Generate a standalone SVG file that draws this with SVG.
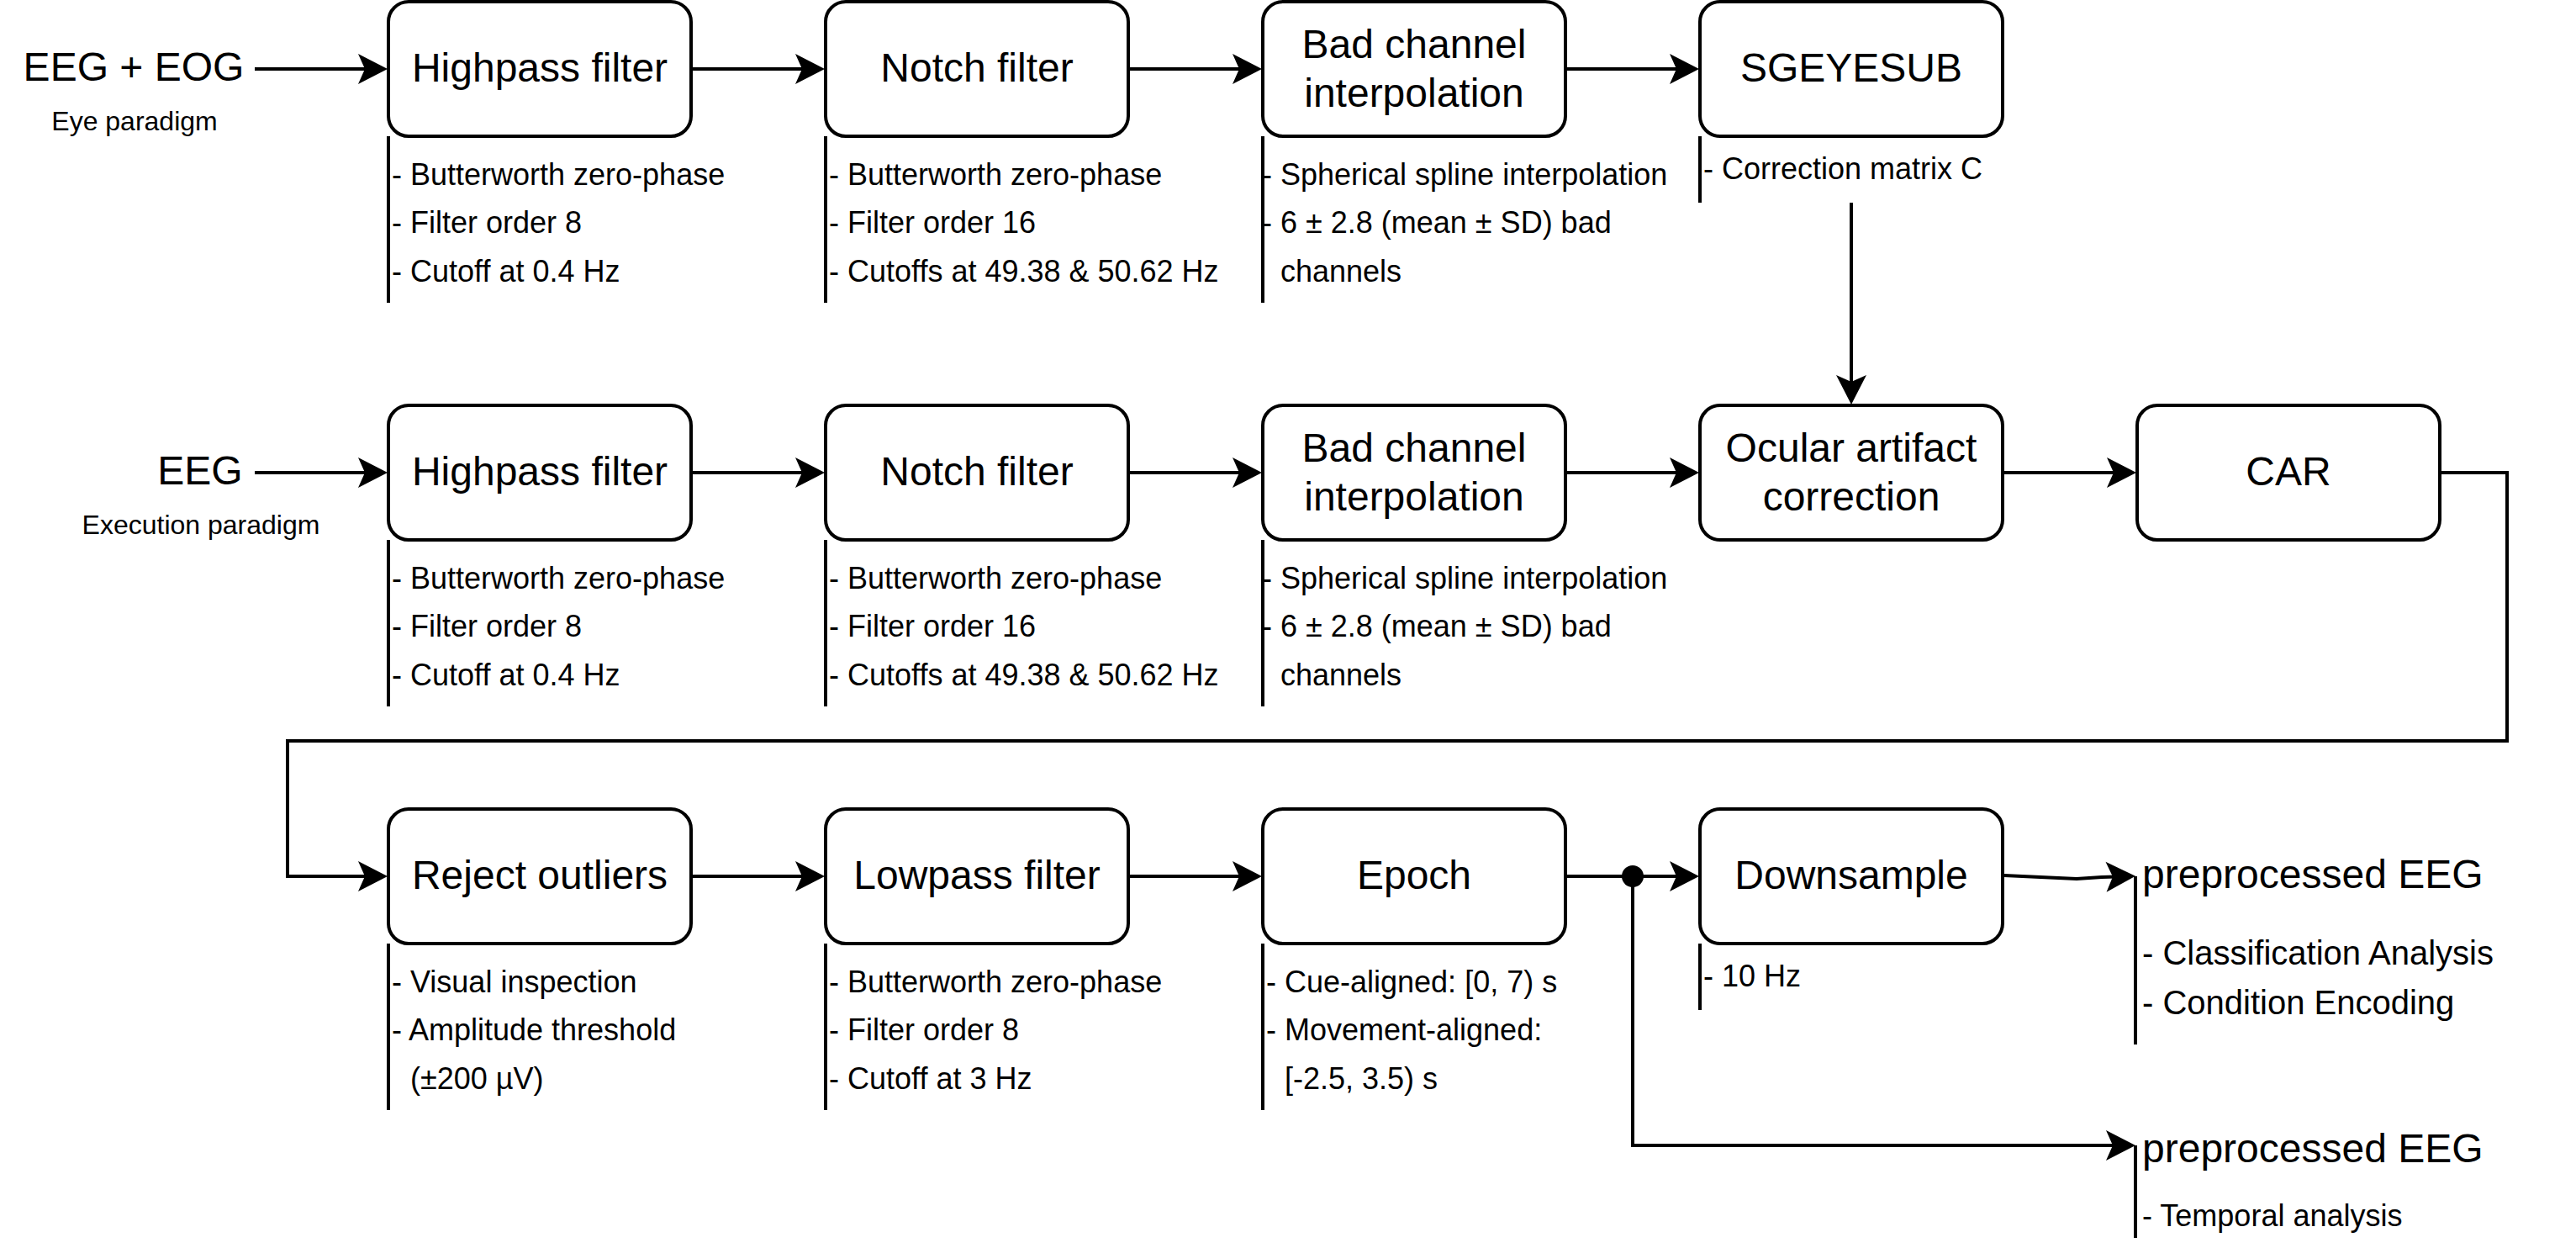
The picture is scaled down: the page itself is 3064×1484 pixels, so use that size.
<svg xmlns="http://www.w3.org/2000/svg" width="3064" height="1484" viewBox="0 0 3064 1484">
<defs>
<marker id="arr" markerUnits="userSpaceOnUse" markerWidth="40" markerHeight="40" viewBox="0 0 40 40" refX="30" refY="20" orient="auto">
<polygon points="36,20 1,2 9,20 1,38" fill="#000"/>
</marker>
</defs>
<style>
text{font-family:"Liberation Sans",Arial,Helvetica,sans-serif;fill:#000}
.box{fill:#fff;stroke:#000;stroke-width:4}
.lbl{font-size:48px;text-anchor:middle}
.sub{font-size:32px;text-anchor:middle}
.ann{font-size:36px}
.ann40{font-size:40px}
.head{font-size:48px}
.aline{stroke:#000;stroke-width:4;fill:none}
.edge{stroke:#000;stroke-width:4;fill:none;marker-end:url(#arr)}
</style>
<rect x="0" y="0" width="3064" height="1484" fill="#fff"/>

<g id="connectors">
<path class="edge" d="M303,82 H455"/>
<path class="edge" d="M824,82 H975"/>
<path class="edge" d="M1344,82 H1495"/>
<path class="edge" d="M1864,82 H2015"/>
<path class="edge" d="M2202,241 V475"/>
<path class="edge" d="M303,562 H455"/>
<path class="edge" d="M824,562 H975"/>
<path class="edge" d="M1344,562 H1495"/>
<path class="edge" d="M1864,562 H2015"/>
<path class="edge" d="M2384,562 H2535"/>
<path class="edge" d="M2904,562 H2982 V881 H342 V1042 H455"/>
<path class="edge" d="M824,1042 H975"/>
<path class="edge" d="M1344,1042 H1495"/>
<path class="edge" d="M1864,1042 H2015"/>
<path class="edge" d="M1942,1042 V1362 H2534"/>
<path class="edge" d="M2384,1041 L2470,1045 L2500,1043 L2534,1042"/>
<circle cx="1942" cy="1042" r="13" fill="#000"/>
</g>

<g id="in-eye">
<text class="lbl" x="159" y="96">EEG + EOG</text>
<text class="sub" x="160" y="155">Eye paradigm</text>
</g>
<g id="in-exec">
<text class="lbl" x="238" y="576">EEG</text>
<text class="sub" x="239" y="635">Execution paradigm</text>
</g>

<g id="hp1">
<rect class="box" x="462" y="2" width="360" height="160" rx="24"/>
<text class="lbl" x="642" y="97">Highpass filter</text>
<path class="aline" d="M462,162 V360"/>
<text class="ann" x="466" y="220">- Butterworth zero-phase</text>
<text class="ann" x="466" y="277">- Filter order 8</text>
<text class="ann" x="466" y="335">- Cutoff at 0.4 Hz</text>
</g>
<g id="notch1">
<rect class="box" x="982" y="2" width="360" height="160" rx="24"/>
<text class="lbl" x="1162" y="97">Notch filter</text>
<path class="aline" d="M982,162 V360"/>
<text class="ann" x="986" y="220">- Butterworth zero-phase</text>
<text class="ann" x="986" y="277">- Filter order 16</text>
<text class="ann" x="986" y="335">- Cutoffs at 49.38 &amp; 50.62 Hz</text>
</g>
<g id="bad1">
<rect class="box" x="1502" y="2" width="360" height="160" rx="24"/>
<text class="lbl" x="1682" y="69">Bad channel</text>
<text class="lbl" x="1682" y="127">interpolation</text>
<path class="aline" d="M1502,162 V360"/>
<text class="ann" x="1501" y="220">- Spherical spline interpolation</text>
<text class="ann" x="1501" y="277">- 6 ± 2.8 (mean ± SD) bad</text>
<text class="ann" x="1523" y="335">channels</text>
</g>
<g id="sgeyesub">
<rect class="box" x="2022" y="2" width="360" height="160" rx="24"/>
<text class="lbl" x="2202" y="97">SGEYESUB</text>
<path class="aline" d="M2022,162 V241"/>
<text class="ann" x="2026" y="213">- Correction matrix C</text>
</g>

<g id="hp2">
<rect class="box" x="462" y="482" width="360" height="160" rx="24"/>
<text class="lbl" x="642" y="577">Highpass filter</text>
<path class="aline" d="M462,642 V840"/>
<text class="ann" x="466" y="700">- Butterworth zero-phase</text>
<text class="ann" x="466" y="757">- Filter order 8</text>
<text class="ann" x="466" y="815">- Cutoff at 0.4 Hz</text>
</g>
<g id="notch2">
<rect class="box" x="982" y="482" width="360" height="160" rx="24"/>
<text class="lbl" x="1162" y="577">Notch filter</text>
<path class="aline" d="M982,642 V840"/>
<text class="ann" x="986" y="700">- Butterworth zero-phase</text>
<text class="ann" x="986" y="757">- Filter order 16</text>
<text class="ann" x="986" y="815">- Cutoffs at 49.38 &amp; 50.62 Hz</text>
</g>
<g id="bad2">
<rect class="box" x="1502" y="482" width="360" height="160" rx="24"/>
<text class="lbl" x="1682" y="549">Bad channel</text>
<text class="lbl" x="1682" y="607">interpolation</text>
<path class="aline" d="M1502,642 V840"/>
<text class="ann" x="1501" y="700">- Spherical spline interpolation</text>
<text class="ann" x="1501" y="757">- 6 ± 2.8 (mean ± SD) bad</text>
<text class="ann" x="1523" y="815">channels</text>
</g>
<g id="ocular">
<rect class="box" x="2022" y="482" width="360" height="160" rx="24"/>
<text class="lbl" x="2202" y="549">Ocular artifact</text>
<text class="lbl" x="2202" y="607">correction</text>
</g>
<g id="car">
<rect class="box" x="2542" y="482" width="360" height="160" rx="24"/>
<text class="lbl" x="2722" y="577">CAR</text>
</g>

<g id="reject">
<rect class="box" x="462" y="962" width="360" height="160" rx="24"/>
<text class="lbl" x="642" y="1057">Reject outliers</text>
<path class="aline" d="M462,1122 V1320"/>
<text class="ann" x="466" y="1180">- Visual inspection</text>
<text class="ann" x="466" y="1237">- Amplitude threshold</text>
<text class="ann" x="488" y="1295">(±200 µV)</text>
</g>
<g id="lowpass">
<rect class="box" x="982" y="962" width="360" height="160" rx="24"/>
<text class="lbl" x="1162" y="1057">Lowpass filter</text>
<path class="aline" d="M982,1122 V1320"/>
<text class="ann" x="986" y="1180">- Butterworth zero-phase</text>
<text class="ann" x="986" y="1237">- Filter order 8</text>
<text class="ann" x="986" y="1295">- Cutoff at 3 Hz</text>
</g>
<g id="epoch">
<rect class="box" x="1502" y="962" width="360" height="160" rx="24"/>
<text class="lbl" x="1682" y="1057">Epoch</text>
<path class="aline" d="M1502,1122 V1320"/>
<text class="ann" x="1506" y="1180">- Cue-aligned: [0, 7) s</text>
<text class="ann" x="1506" y="1237">- Movement-aligned:</text>
<text class="ann" x="1528" y="1295">[-2.5, 3.5) s</text>
</g>
<g id="downsample">
<rect class="box" x="2022" y="962" width="360" height="160" rx="24"/>
<text class="lbl" x="2202" y="1057">Downsample</text>
<path class="aline" d="M2022,1122 V1201"/>
<text class="ann" x="2026" y="1173">- 10 Hz</text>
</g>

<g id="out-classification">
<path class="aline" d="M2540,1042 V1242"/>
<text class="head" x="2548" y="1056">preprocessed EEG</text>
<text class="ann40" x="2548" y="1147">- Classification Analysis</text>
<text class="ann40" x="2548" y="1206">- Condition Encoding</text>
</g>
<g id="out-temporal">
<path class="aline" d="M2540,1362 V1472"/>
<text class="head" x="2548" y="1382">preprocessed EEG</text>
<text class="ann" x="2548" y="1458">- Temporal analysis</text>
</g>
</svg>
